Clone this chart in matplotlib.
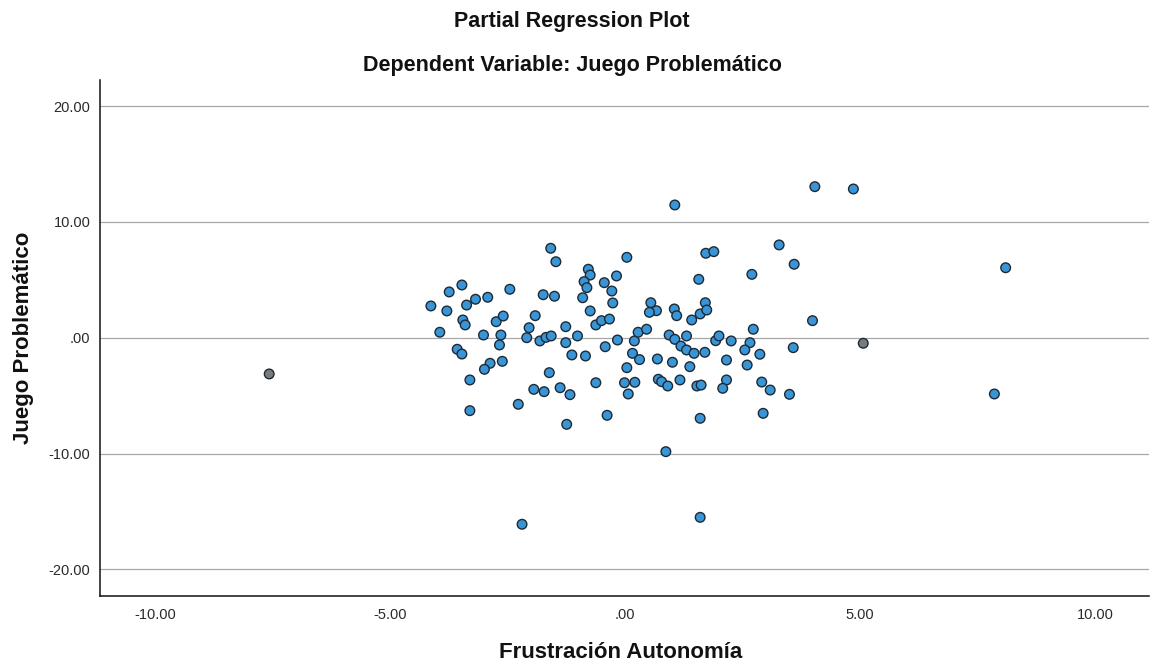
import matplotlib
matplotlib.use("Agg")
import matplotlib.pyplot as plt
import numpy as np

# ---- data ----
frustracion_autonomia = [
    -1.58, -1.47, 0.04, -0.78, -0.74, -0.87, -0.81, -0.44, -0.18, -0.28,
    -0.26, -0.90, -3.47, -3.74, -2.45, -1.74, -1.50, -3.18, -2.92, -3.37,
    -4.13, -3.79, -0.74, -3.45, -3.40, -2.74, -2.59, -1.91, -1.26, -2.04,
    -0.62, -0.50, -0.33, -3.94, -3.01, -2.64, -2.09, -1.81, -1.68, -1.57,
    -1.01, -1.26, -0.16, 0.20, 0.28, -0.42, -2.67, -3.57, -3.47, -1.13,
    -0.84, 0.16, 0.31, -2.61, -2.87, -2.99, -1.61, 0.04, -3.30, -0.62,
    -0.01, 0.21, -1.94, -1.72, -1.38, -1.17, 0.07, -2.27, -3.30, -0.38,
    -1.24, 1.06, 4.04, 4.86, 3.28, 3.60, 1.72, 1.89, 1.57, 2.70,
    0.55, 0.67, 1.05, 1.71, 0.52, 1.10, 1.60, 1.74, 1.42, 3.99,
    2.73, 0.46, 0.94, 1.06, 1.31, 1.19, 1.31, 1.47, 1.70, 1.93,
    2.00, 2.26, 2.66, 2.55, 2.87, 3.58, 5.07, 0.69, 1.01, 1.38,
    2.16, 2.60, 0.71, 0.78, 0.91, 1.17, 1.53, 1.62, 2.16, 2.08,
    2.91, 3.09, 3.50, 2.94, 1.60, -7.57, 0.87, -2.19, 1.60, 8.10,
    7.86,
]
juego_problematico = [
    7.72, 6.56, 6.94, 5.91, 5.41, 4.84, 4.32, 4.75, 5.33, 4.03,
    3.00, 3.45, 4.55, 3.95, 4.18, 3.71, 3.58, 3.32, 3.49, 2.82,
    2.74, 2.31, 2.31, 1.53, 1.10, 1.38, 1.87, 1.90, 0.95, 0.86,
    1.10, 1.47, 1.61, 0.47, 0.23, 0.23, 0.00, -0.28, 0.03, 0.15,
    0.15, -0.43, -0.20, -0.28, 0.47, -0.78, -0.63, -1.00, -1.41, -1.49,
    -1.58, -1.35, -1.89, -2.04, -2.21, -2.73, -3.02, -2.59, -3.65, -3.89,
    -3.89, -3.85, -4.46, -4.66, -4.32, -4.92, -4.86, -5.75, -6.30, -6.70,
    -7.48, 11.46, 13.04, 12.84, 8.01, 6.34, 7.29, 7.43, 5.04, 5.47,
    3.02, 2.33, 2.48, 3.02, 2.19, 1.90, 2.05, 2.39, 1.53, 1.47,
    0.73, 0.73, 0.23, -0.14, 0.15, -0.72, -1.06, -1.35, -1.26, -0.26,
    0.15, -0.28, -0.43, -1.06, -1.43, -0.86, -0.48, -1.84, -2.12, -2.50,
    -1.93, -2.36, -3.59, -3.80, -4.17, -3.65, -4.17, -4.09, -3.65, -4.37,
    -3.83, -4.52, -4.89, -6.53, -6.96, -3.13, -9.84, -16.11, -15.51, 6.04,
    -4.86,
]
gray_points = [106, 125]  # indices of the points drawn in gray

x_ticks = [-10, -5, 0, 5, 10]
x_tick_labels = ["-10.00", "-5.00", ".00", "5.00", "10.00"]
y_ticks = [-20, -10, 0, 10, 20]
y_tick_labels = ["-20.00", "-10.00", ".00", "10.00", "20.00"]

title_1 = "Partial Regression Plot"
title_2 = "Dependent Variable: Juego Problemático"
x_label = "Frustración Autonomía"
y_label = "Juego Problemático"

# ---- styling ----
plt.rcParams['font.family'] = ['Liberation Sans', 'DejaVu Sans']

W, H = 1159, 667
fig = plt.figure(figsize=(W / 100, H / 100), dpi=100)
ax = fig.add_axes([100 / W, 1 - 595.5 / H, 1049 / W, 515.5 / H])

x = np.array(frustracion_autonomia)
y = np.array(juego_problematico)
colors = ['#3a95d6'] * len(x)
for i in gray_points:
    colors[i] = '#7a7a7a'

ax.set_xlim(-11.17, 11.15)
ax.set_ylim(-22.26, 22.25)

ax.set_yticks(y_ticks)
ax.set_yticklabels(y_tick_labels)
ax.set_xticks(x_ticks)
ax.set_xticklabels(x_tick_labels)

ax.yaxis.grid(True, color='#a8a8a8', linewidth=0.9)
ax.xaxis.grid(False)
ax.set_axisbelow(True)

ax.scatter(x, y, s=48, c=colors, edgecolors='#1c2a36', linewidths=1.0, zorder=3)

for side in ['top', 'right']:
    ax.spines[side].set_visible(False)
for side in ['left', 'bottom']:
    ax.spines[side].set_color('#111111')
    ax.spines[side].set_linewidth(1.1)

ax.tick_params(axis='both', length=0, labelsize=10.5, labelcolor='#2a2a2a')
ax.tick_params(axis='y', pad=7)
ax.tick_params(axis='x', pad=9)

ax.set_xlabel(x_label, fontsize=16, fontweight='bold', color='#111111', va='center')
ax.set_ylabel(y_label, fontsize=16, fontweight='bold', color='#111111', va='center')
ax.xaxis.set_label_coords((621 - 100) / 1049, (595.5 - 652) / 515.5)
ax.yaxis.set_label_coords((24 - 100) / 1049, 0.5)

fig.text(572 / W, 1 - 22 / H, title_1, ha='center', va='center',
         fontsize=15.5, fontweight='bold', color='#111111')
fig.text(572 / W, 1 - 65 / H, title_2, ha='center', va='center',
         fontsize=15.5, fontweight='bold', color='#111111')

fig.savefig("out.png", dpi=100, facecolor='white')
